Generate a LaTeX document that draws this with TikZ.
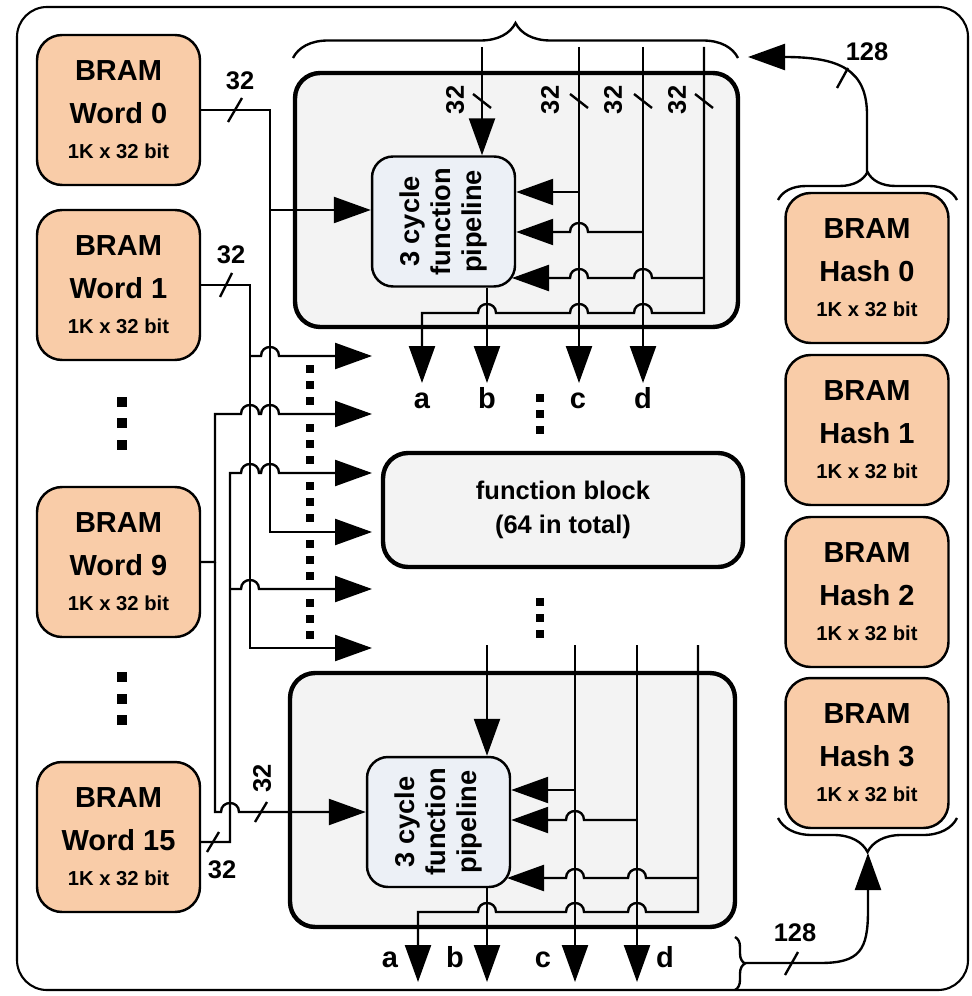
\documentclass[tikz,border=0pt]{standalone}
\usepackage{fontspec}
\setmainfont{Liberation Sans}
\usetikzlibrary{arrows.meta,decorations.pathreplacing}
\definecolor{peach}{RGB}{249,204,168}
\definecolor{blockgray}{RGB}{243,243,243}
\definecolor{pipeblue}{RGB}{236,240,246}
\tikzset{
  wire/.style={line width=1.35pt},
  arr/.style={wire,-{Triangle[length=0.74cm,width=0.52cm]}},
  bram/.style={draw,line width=1.4pt,fill=peach,rounded corners=0.5cm,minimum width=3.26cm,minimum height=3cm,inner sep=0pt},
  fblock/.style={draw,line width=2.5pt,fill=blockgray,rounded corners=0.5cm,inner sep=0pt},
  pipebox/.style={draw,line width=1.4pt,fill=pipeblue,rounded corners=0.42cm,inner sep=0pt,minimum width=2.86cm,minimum height=2.6cm},
  bigtxt/.style={font=\fontsize{16.5}{19}\selectfont\bfseries,inner sep=0pt},
  smalltxt/.style={font=\fontsize{11.5}{14}\selectfont\bfseries,inner sep=0pt},
  lbl/.style={font=\fontsize{14.5}{16}\selectfont\bfseries,inner sep=0pt},
  letter/.style={font=\fontsize{16.5}{18}\selectfont\bfseries,inner sep=0pt,anchor=base},
  tick/.style={line width=1.35pt},
  brc/.style={line width=1.35pt,decorate,decoration={brace,amplitude=#1}},
  hopr/.style 2 args={insert path={-- (#1-9,#2) .. controls (#1-9,#2-12) and (#1+9,#2-12) .. (#1+9,#2)}},
  hopl/.style 2 args={insert path={-- (#1+9,#2) .. controls (#1+9,#2-12) and (#1-9,#2-12) .. (#1-9,#2)}},
}
\newcommand{\bramblock}[4]{%
  \node[bram] (#1) at (#2,#3+75) {};
  \node[bigtxt] (#1a) at (#2,#3+36) {BRAM};
  \node[bigtxt] (#1b) at (#2,#3+78) {#4};
  \node[smalltxt] (#1c) at (#2,#3+116) {1K x 32 bit};
}
\begin{document}
\begin{tikzpicture}[x=0.02cm,y=-0.02cm]
\useasboundingbox (0,0) rectangle (971,996);
\draw[line width=1.2pt,rounded corners=0.6cm] (17,7) rectangle (968,990);

% BRAM blocks
\bramblock{w0}{118.5}{35}{Word 0}
\bramblock{w1}{118.5}{210}{Word 1}
\bramblock{w9}{118.5}{487}{Word 9}
\bramblock{w15}{118.5}{762}{Word 15}
\bramblock{h0}{867}{193}{Hash 0}
\bramblock{h1}{867}{355}{Hash 1}
\bramblock{h2}{867}{517}{Hash 2}
\bramblock{h3}{867}{678}{Hash 3}

% function blocks
\node[fblock,minimum width=8.86cm,minimum height=5.08cm] (fb1) at (516.5,200) {};
\node[fblock,minimum width=8.9cm,minimum height=5.08cm] (fb2) at (512.5,800) {};
\node[fblock,minimum width=7.2cm,minimum height=2.28cm,align=center,font=\fontsize{14.5}{19}\selectfont\bfseries] (fbm) at (563,510) {function block\\(64 in total)};

\node[pipebox] (p1) at (443.5,221.5) {};
\node[rotate=90,align=center,font=\fontsize{15.5}{17.5}\selectfont\bfseries,inner sep=0pt] (p1t) at (p1.center) {3 cycle\\function\\pipeline};
\node[pipebox] (p2) at (438.5,822) {};
\node[rotate=90,align=center,font=\fontsize{15.5}{17.5}\selectfont\bfseries,inner sep=0pt] (p2t) at (p2.center) {3 cycle\\function\\pipeline};

% top block wiring
\draw[arr] (482,47) -- (p1.north -| 482,0);
\draw[arr] (579,47) -- (579,383);
\draw[arr] (643,47) -- (643,383);
\draw[arr] (704,47) -- (704,313) [hopl={643}{313}] [hopl={579}{313}] [hopl={487}{313}] -- (422,313) -- (422,383);
\draw[arr] (579,192) -- (p1.east |- 0,192);
\draw[arr] (643,232) [hopl={579}{232}] -- (p1.east |- 0,232);
\draw[arr] (704,278) [hopl={643}{278}] [hopl={579}{278}] -- (512,278);
\draw[arr] (p1.south -| 487,0) -- (487,383);

% bottom block wiring
\draw[arr] (487,645) -- (p2.north -| 487,0);
\draw[arr] (575,645) -- (575,982);
\draw[arr] (637,645) -- (637,982);
\draw[arr] (698,645) -- (698,912) [hopl={637}{912}] [hopl={575}{912}] [hopl={487}{912}] -- (418,912) -- (418,982);
\draw[arr] (575,790) -- (p2.east |- 0,790);
\draw[arr] (637,820) [hopl={575}{820}] -- (p2.east |- 0,820);
\draw[arr] (698,878) [hopl={637}{878}] [hopl={575}{878}] -- (507,878);
\draw[arr] (p2.south -| 487,0) -- (487,982);

% left wiring
\draw[arr] (w0.east) -- (270,110) -- (270,532) -- (372,532);
\draw[arr] (270,210) -- (p1.west |- 0,210);
\draw[arr] (w1.east) -- (250,285) -- (250,648) -- (372,648);
\draw[arr] (250,356) [hopr={270}{356}] -- (372,356);
\draw[arr] (w9.east) -- (215,562) -- (215,414) [hopr={250}{414}] [hopr={270}{414}] -- (372,414);
\draw[arr] (215,562) -- (215,812) [hopr={230}{812}] -- (p2.west |- 0,812);
\draw[arr] (w15.east |- 0,842) -- (230,842) -- (230,473) [hopr={250}{473}] [hopr={270}{473}] -- (372,473);
\draw[arr] (230,589) [hopr={250}{589}] -- (372,589);

% bus width ticks
\draw[tick] (228,122) -- (242,98);
\draw[tick] (220,297) -- (232,273);
\draw[tick] (207,852) -- (219,832);
\draw[tick] (255,822) -- (267,802);
\foreach \x in {482,579,643,704} \draw[tick] (\x-9,94) -- (\x+9,108);
\draw[tick] (837,88) -- (848,68);
\draw[tick] (785,975) -- (798,952);

% labels
\node[lbl] (lw0) at (240,81) {32};
\node[lbl] (lw1) at (231,255) {32};
\node[lbl] (lw15) at (222,870) {32};
\node[lbl,rotate=90] (lp2) at (262,778) {32};
\node[lbl,rotate=90] (lt1) at (455,100) {32};
\node[lbl,rotate=90] (lt2) at (550,100) {32};
\node[lbl,rotate=90] (lt3) at (613,100) {32};
\node[lbl,rotate=90] (lt4) at (677,100) {32};
\node[lbl] (lh1) at (867,52) {128};
\node[lbl] (lh2) at (795,933) {128};

\node[letter] (ta) at (422,408) {a};
\node[letter] (tb) at (487,408) {b};
\node[letter] (tc) at (578,408) {c};
\node[letter] (td) at (643,408) {d};
\node[letter] (ba) at (390,967) {a};
\node[letter] (bb) at (455,967) {b};
\node[letter] (bc) at (543,967) {c};
\node[letter] (bd) at (665,967) {d};

% ellipsis dots
\foreach \y in {402,423,445,677,699,720} \fill (117,\y-5) rectangle (127,\y+5);
\foreach \c in {385,444,502,560,619} \foreach \d in {-16,0,16} \fill (306,\c+\d-4) rectangle (314,\c+\d+4);
\foreach \y in {398,414,430,602,618,634} \fill (536,\y-4) rectangle (544,\y+4);

% braces
\draw[brc=0.7cm] (293,58) -- (738,58);
\draw[brc=0.56cm] (778,200) -- (957,200);
\draw[brc=0.68cm] (957,818) -- (778,818);
\draw[brc=0.2cm] (735,937) -- (735,990);

% hash feedback paths
\coordinate (h0tip) at (867,172);
\coordinate (topin) at (748,57);
\coordinate (outtip) at (745,963);
\coordinate (h3tip) at (868,853);
\draw[arr] (h0tip) -- (867,115) .. controls (867,70) and (840,57) .. (topin);
\draw[arr] (outtip) -- (820,963) .. controls (860,963) and (868,950) .. (868,910) -- (h3tip);
\end{tikzpicture}
\end{document}
